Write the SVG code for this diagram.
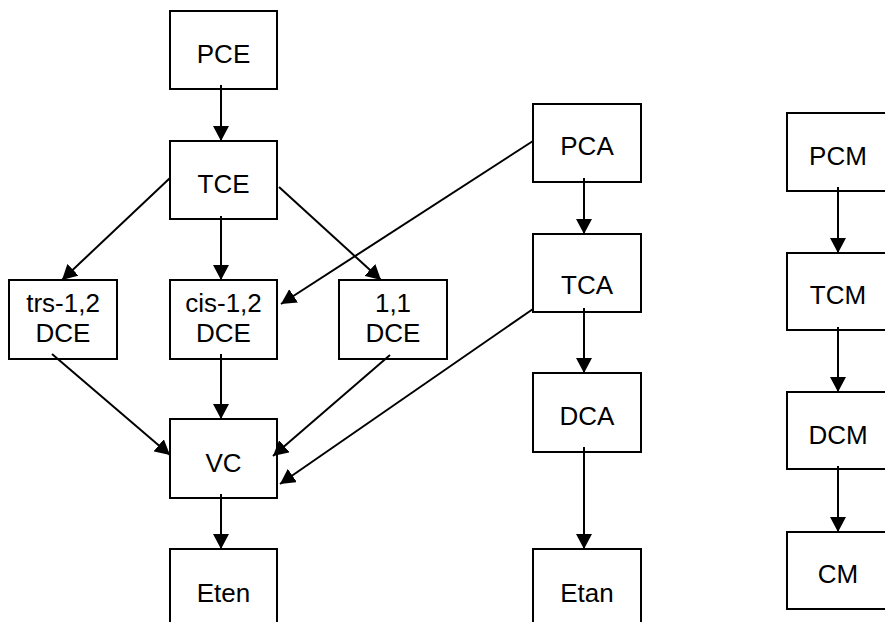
<svg xmlns="http://www.w3.org/2000/svg" width="885" height="622" viewBox="0 0 885 622">
<style>
.box{fill:none;stroke:#000;stroke-width:2}
.t{font-family:"Liberation Sans",Arial,sans-serif;font-size:26px;fill:#000;text-anchor:middle}
.c{stroke:#000;stroke-width:2;fill:none;marker-end:url(#ah)}
</style>
<defs>
<marker id="ah" viewBox="0 0 15 16" refX="15" refY="8" markerWidth="15" markerHeight="16" markerUnits="userSpaceOnUse" orient="auto">
<path d="M0,0 L15,8 L0,16 Z" fill="#000"/>
</marker>
</defs>
<rect width="885" height="622" fill="#fff"/>
<g id="PCE"><rect class="box" x="170" y="11" width="107" height="78"/><text class="t" x="223.5" y="63">PCE</text></g>
<g id="TCE"><rect class="box" x="170" y="141" width="107" height="78"/><text class="t" x="223.5" y="193">TCE</text></g>
<g id="trsDCE"><rect class="box" x="9" y="280" width="108" height="79"/><text class="t" x="63" y="312">trs-1,2</text><text class="t" x="63" y="342">DCE</text></g>
<g id="cisDCE"><rect class="box" x="170" y="280" width="107" height="79"/><text class="t" x="223.5" y="312">cis-1,2</text><text class="t" x="223.5" y="342">DCE</text></g>
<g id="DCE11"><rect class="box" x="339" y="280" width="108" height="79"/><text class="t" x="393" y="312">1,1</text><text class="t" x="393" y="342">DCE</text></g>
<g id="VC"><rect class="box" x="170" y="419" width="107" height="79"/><text class="t" x="223.5" y="472">VC</text></g>
<g id="Eten"><rect class="box" x="170" y="549" width="107" height="80"/><text class="t" x="223.5" y="602">Eten</text></g>
<g id="PCA"><rect class="box" x="533" y="104" width="108" height="78"/><text class="t" x="587" y="155">PCA</text></g>
<g id="TCA"><rect class="box" x="533" y="234" width="108" height="78"/><text class="t" x="587" y="294">TCA</text></g>
<g id="DCA"><rect class="box" x="533" y="373" width="108" height="79"/><text class="t" x="587" y="425">DCA</text></g>
<g id="Etan"><rect class="box" x="533" y="549" width="108" height="80"/><text class="t" x="587" y="602">Etan</text></g>
<g id="PCM"><rect class="box" x="787" y="113" width="107" height="78"/><text class="t" x="838" y="165">PCM</text></g>
<g id="TCM"><rect class="box" x="787" y="253" width="107" height="77"/><text class="t" x="838" y="304">TCM</text></g>
<g id="DCM"><rect class="box" x="787" y="392" width="107" height="77"/><text class="t" x="838" y="444">DCM</text></g>
<g id="CM"><rect class="box" x="787" y="532" width="107" height="77"/><text class="t" x="838" y="583">CM</text></g>
<g id="connectors">
<line class="c" x1="221" y1="85" x2="221" y2="141"/>
<line class="c" x1="170" y1="178" x2="62" y2="280"/>
<line class="c" x1="221" y1="216" x2="221" y2="280"/>
<line class="c" x1="279" y1="187" x2="381" y2="280"/>
<line class="c" x1="533" y1="141" x2="281" y2="304"/>
<line class="c" x1="52" y1="354" x2="170" y2="455"/>
<line class="c" x1="221" y1="354" x2="221" y2="419"/>
<line class="c" x1="390" y1="355" x2="273" y2="456"/>
<line class="c" x1="533" y1="309" x2="280" y2="484"/>
<line class="c" x1="221" y1="494" x2="221" y2="549"/>
<line class="c" x1="584" y1="178" x2="584" y2="234"/>
<line class="c" x1="584" y1="308" x2="584" y2="373"/>
<line class="c" x1="584" y1="447" x2="584" y2="549"/>
<line class="c" x1="838" y1="187" x2="838" y2="253"/>
<line class="c" x1="838" y1="327" x2="838" y2="392"/>
<line class="c" x1="838" y1="466" x2="838" y2="532"/>
</g>
</svg>
